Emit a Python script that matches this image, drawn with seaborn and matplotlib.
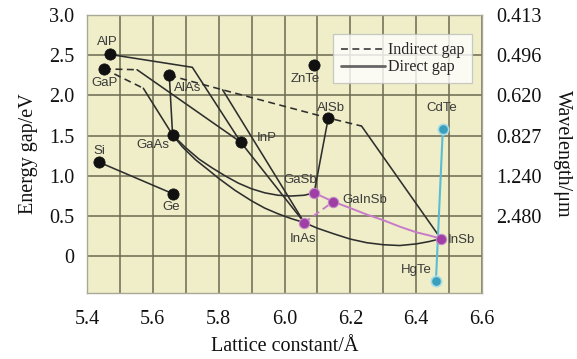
import matplotlib
matplotlib.use("Agg")
import matplotlib.pyplot as plt
from matplotlib.lines import Line2D
from matplotlib.ticker import MultipleLocator
import pandas as pd
import seaborn as sns

# ---- binary compounds: lattice constant (Å) and energy gap (eV) ----
black_names = ["AlP", "GaP", "AlAs", "GaAs", "InP", "Si", "Ge", "ZnTe", "AlSb"]
black_a = [5.47, 5.452, 5.65, 5.66, 5.867, 5.437, 5.66, 6.09, 6.133]
black_eg = [2.51, 2.33, 2.25, 1.51, 1.42, 1.17, 0.78, 2.38, 1.72]

purple_names = ["GaSb", "GaInSb", "InAs", "InSb"]
purple_a = [6.09, 6.148, 6.06, 6.475]
purple_eg = [0.79, 0.68, 0.42, 0.22]

cyan_names = ["CdTe", "HgTe"]
cyan_a = [6.481, 6.46]
cyan_eg = [1.58, -0.31]

# ---- alloy branches (lattice constant list, gap list) ----
# indirect-gap branches
gap_upper_ind = ([5.452, 5.552], [2.33, 2.32])
gap_lower_ind = ([5.452, 5.571], [2.33, 2.09])
alas_alsb_ind = ([5.65, 5.812, 6.133, 6.234], [2.25, 2.07, 1.72, 1.62])

# direct-gap branches
alp_inp = ([5.47, 5.72, 5.867], [2.51, 2.35, 1.42])
gainp = ([5.552, 5.867], [2.32, 1.42])
gaasp = ([5.571, 5.66], [2.09, 1.51])
algaas = ([5.65, 5.66], [2.25, 1.51])
alinas = ([5.812, 6.06], [2.07, 0.42])
inasp = ([5.867, 6.06], [1.42, 0.42])
ingaas = ([5.66, 5.69, 5.73, 5.77, 5.80, 5.85, 5.90, 5.94, 5.98, 6.02, 6.06],
          [1.51, 1.36, 1.20, 1.07, 0.97, 0.82, 0.69, 0.60, 0.53, 0.47, 0.42])
inassb = ([6.06, 6.10, 6.15, 6.20, 6.25, 6.30, 6.35, 6.40, 6.44, 6.475],
          [0.42, 0.35, 0.28, 0.215, 0.17, 0.145, 0.135, 0.155, 0.185, 0.22])
gaassb = ([5.66, 5.70, 5.74, 5.78, 5.82, 5.86, 5.90, 5.94, 5.98, 6.02, 6.06, 6.09],
          [1.51, 1.35, 1.21, 1.10, 1.00, 0.91, 0.84, 0.79, 0.76, 0.75, 0.76, 0.79])
algasb = ([6.09, 6.133], [0.79, 1.72])
alinsb = ([6.234, 6.475], [1.62, 0.22])
sige = ([5.437, 5.66], [1.17, 0.78])

# antimonide branches
gainsb = ([6.09, 6.148, 6.20, 6.25, 6.30, 6.35, 6.40, 6.44, 6.475],
          [0.79, 0.68, 0.60, 0.52, 0.45, 0.37, 0.30, 0.26, 0.22])
inas_gainsb = ([6.06, 6.148], [0.42, 0.68])

# mercury-cadmium telluride
hgcdte = ([6.481, 6.46], [1.58, -0.31])

# right-hand axis: wavelength (µm) at the energy gridlines
energy_ticks = [0.5, 1.0, 1.5, 2.0, 2.5, 3.0]
wavelength_labels = ["2.480", "1.240", "0.827", "0.620", "0.496", "0.413"]

# label placement for each compound
label_pos = {
    "AlP": (5.461, 2.67), "GaP": (5.452, 2.16), "AlAs": (5.705, 2.09),
    "GaAs": (5.60, 1.38), "InP": (5.946, 1.47), "Si": (5.437, 1.31),
    "Ge": (5.656, 0.62), "ZnTe": (6.063, 2.21), "AlSb": (6.142, 1.84),
    "CdTe": (6.478, 1.84), "GaSb": (6.047, 0.95), "GaInSb": (6.243, 0.70),
    "InAs": (6.056, 0.22), "InSb": (6.536, 0.20), "HgTe": (6.40, -0.17),
}

sns.set_theme(style="white")
plt.rcParams["font.family"] = ["Liberation Serif", "DejaVu Serif"]
plt.rcParams["lines.scale_dashes"] = False

fig = plt.figure(figsize=(5.77, 3.59), dpi=100)
ax = fig.add_axes([87 / 577, 1 - 293 / 359, (482 - 87) / 577, (293 - 15) / 359])
ax.set_facecolor("#efeec8")

LINE = "#2e2e2e"
PINK_LINE = "#c77bc9"
PINK_DOT = "#9f3fa6"
CYAN_LINE = "#5cbcd4"
CYAN_DOT = "#3a9fba"
DASH = (5, 3.2)


def draw(path, color, dashed=False, lw=1.15):
    xs, ys = path
    kw = dict(dashes=DASH) if dashed else {}
    sns.lineplot(x=xs, y=ys, sort=False, estimator=None, color=color,
                 linewidth=lw, ax=ax, zorder=3, **kw)


for p in (gap_upper_ind, gap_lower_ind, alas_alsb_ind):
    draw(p, LINE, dashed=True)
for p in (alp_inp, gainp, gaasp, algaas, alinas, inasp, ingaas, inassb,
          gaassb, algasb, alinsb, sige):
    draw(p, LINE)
draw(gainsb, PINK_LINE, lw=1.4)
draw(inas_gainsb, PINK_LINE, dashed=True, lw=1.4)
draw(hgcdte, CYAN_LINE, lw=1.5)

black_df = pd.DataFrame({"a": black_a, "eg": black_eg, "name": black_names})
purple_df = pd.DataFrame({"a": purple_a, "eg": purple_eg, "name": purple_names})
cyan_df = pd.DataFrame({"a": cyan_a, "eg": cyan_eg, "name": cyan_names})

sns.scatterplot(data=black_df, x="a", y="eg", color="#111111", s=66,
                edgecolor="#111111", linewidth=0.5, ax=ax, zorder=5)
sns.scatterplot(data=purple_df, x="a", y="eg", color=PINK_DOT, s=55,
                edgecolor="#c38ac6", linewidth=0.8, ax=ax, zorder=5)
sns.scatterplot(data=cyan_df, x="a", y="eg", color=CYAN_DOT, s=55,
                edgecolor="#a6dbe8", linewidth=1.2, ax=ax, zorder=5)

for name, (lx, ly) in label_pos.items():
    ax.text(lx, ly, name, family=["Liberation Sans", "DejaVu Sans"],
            fontsize=9.5, color="#3a3a3a", ha="center", va="center", zorder=6)

ax.set_xlim(5.4, 6.6)
ax.set_ylim(-0.455, 3.0)
ax.xaxis.set_major_locator(MultipleLocator(0.2))
ax.xaxis.set_minor_locator(MultipleLocator(0.1))
ax.set_yticks([0, 0.5, 1.0, 1.5, 2.0, 2.5, 3.0])
ax.set_yticklabels(["0", "0.5", "1.0", "1.5", "2.0", "2.5", "3.0"])
ax.set_xticks([5.4, 5.6, 5.8, 6.0, 6.2, 6.4, 6.6])
ax.set_xticklabels(["5.4", "5.6", "5.8", "6.0", "6.2", "6.4", "6.6"])

GRID = "#6a6a52"
ax.grid(which="both", axis="x", color=GRID, linewidth=1.1, zorder=1)
ax.grid(which="major", axis="y", color=GRID, linewidth=1.1, zorder=1)
ax.set_axisbelow(True)
ax.tick_params(which="both", length=0, labelsize=14.5, colors="#111111")
ax.tick_params(axis="x", pad=12)
ax.tick_params(axis="y", pad=9)
for sp in ax.spines.values():
    sp.set_color("#a9a995")
    sp.set_linewidth(1.0)

ax.set_xlabel("Lattice constant/Å", fontsize=14.5, labelpad=6, color="#111111")
ax.set_ylabel("Energy gap/eV", fontsize=14.5, labelpad=8, color="#111111")

ax2 = ax.twinx()
ax2.set_ylim(ax.get_ylim())
ax2.set_yticks(energy_ticks)
ax2.set_yticklabels(wavelength_labels)
ax2.tick_params(length=0, labelsize=14.5, pad=10, colors="#111111")
for sp in ax2.spines.values():
    sp.set_visible(False)
ax2.set_ylabel("Wavelength/μm", fontsize=14.5, rotation=270, labelpad=22,
               color="#111111")

handles = [
    Line2D([0], [0], color="#3a3a3a", lw=1.2, dashes=DASH),
    Line2D([0], [0], color="#666666", lw=2.0),
]
leg = ax.legend(handles, ["Indirect gap", "Direct gap"], loc="upper right",
                bbox_to_anchor=(0.975, 0.93), frameon=True, fancybox=False,
                fontsize=11.5, handlelength=2.7, handletextpad=0.2,
                labelspacing=0.05, borderpad=0.5, borderaxespad=0.0)
leg.get_frame().set_facecolor("white")
leg.get_frame().set_edgecolor("#bdbdbd")
leg.get_frame().set_linewidth(0.9)
leg.set_zorder(7)

fig.savefig("out.png", dpi=100)
